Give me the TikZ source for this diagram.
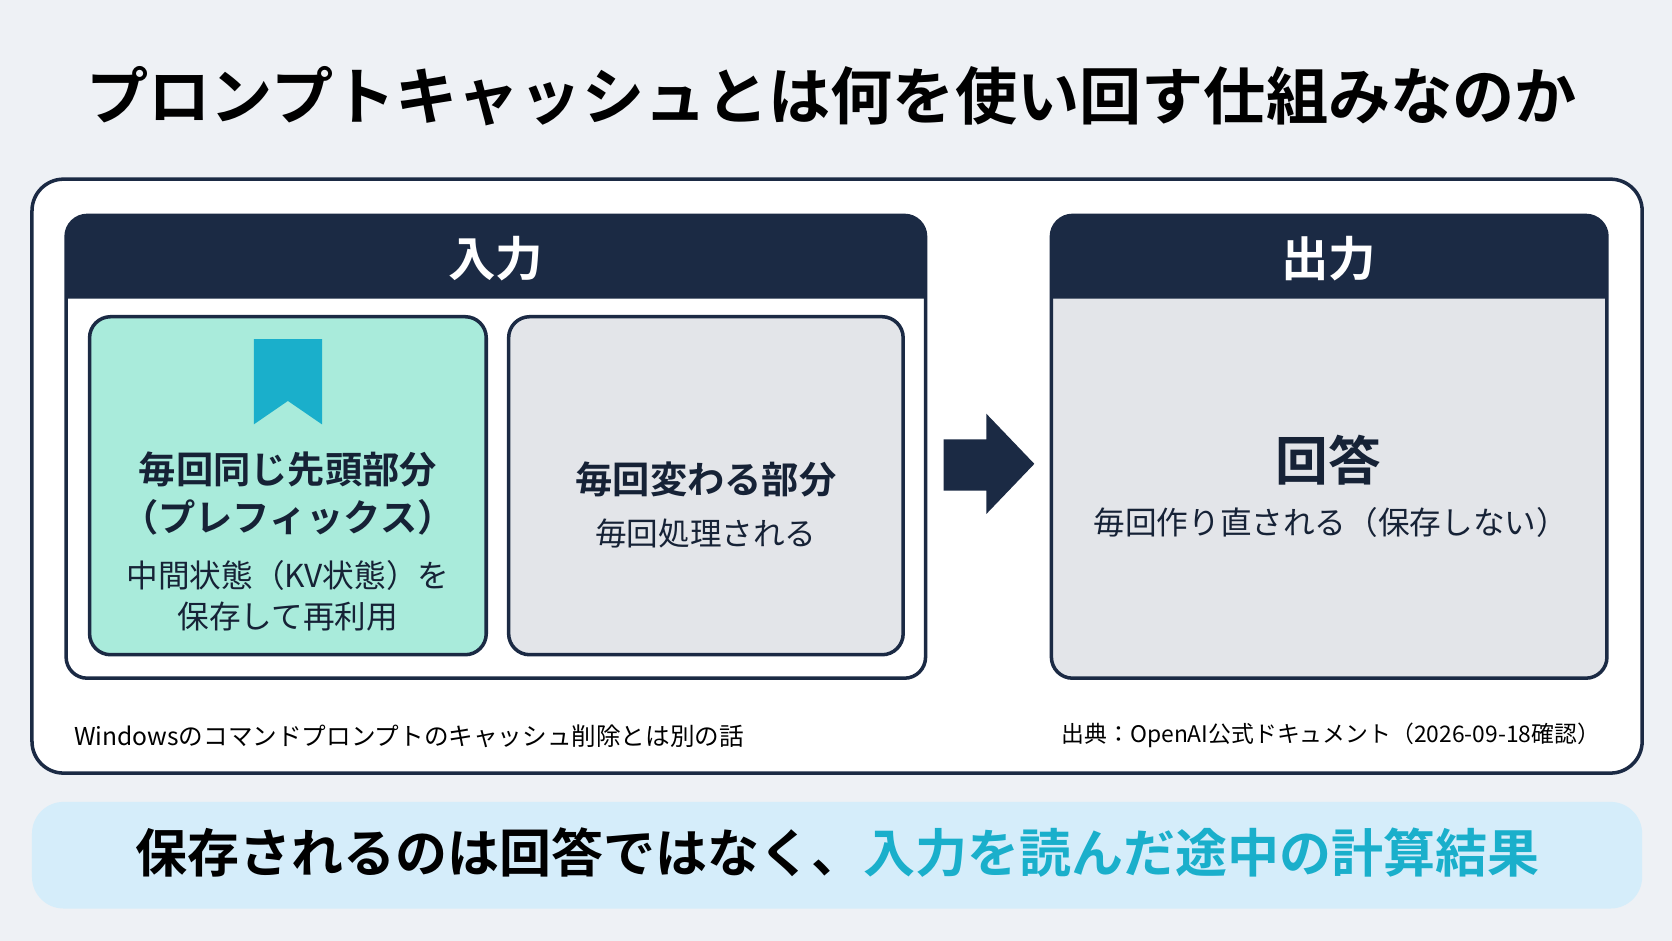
\documentclass[tikz,border=0pt]{standalone}
\usepackage{fontspec}
\setmainfont{Noto Sans CJK JP}
\newfontfamily\jpbold{Noto Sans CJK JP Bold}
\definecolor{navy}{HTML}{1B2A44}
\definecolor{bgcol}{HTML}{EEF1F5}
\definecolor{mint}{HTML}{A9EBDB}
\definecolor{panelgray}{HTML}{E3E5E9}
\definecolor{teal}{HTML}{1AAFCB}
\definecolor{banner}{HTML}{D5EDFA}
\tikzset{
  box/.style={draw=navy, line width=1pt, rounded corners=6pt},
  headtxt/.style={text=white, font=\jpbold\fontsize{13.5}{15}\selectfont},
  bold/.style={font=\jpbold\fontsize{10.6}{13}\selectfont, text=navy!80!black},
  plain/.style={font=\fontsize{9}{11}\selectfont, text=navy!80!black},
  note/.style={font=\fontsize{7}{9}\selectfont, text=black}
}
\begin{document}
\begin{tikzpicture}[x=0.010663cm, y=-0.010663cm]
\useasboundingbox[fill=bgcol] (0,0) rectangle (1568,882);
% title
\node[font=\jpbold\fontsize{17.7}{20}\selectfont, text=black] (title) at (780,90) {プロンプトキャッシュとは何を使い回す仕組みなのか};
% outer frame
\draw[box, fill=white, rounded corners=9pt] (30,168) rectangle (1540,725);
% input panel
\draw[box, fill=white] (62,202) rectangle (868,636);
\fill[navy] (62,280) [rounded corners=6pt] -- (62,202) -- (868,202) [sharp corners] -- (868,280) -- cycle;
\node[headtxt] (inhead) at (465,243) {入力};
\draw[box, fill=mint] (84,297) rectangle (456,614);
\fill[teal] (238,318) -- (302,318) -- (302,398) -- (270,376) -- (238,398) -- cycle;
\node[bold] (pre1) at (270,440) {毎回同じ先頭部分};
\node[bold] (pre2) at (270,485) {（プレフィックス）};
\node[plain] (pre3) at (270,540) {中間状態（KV状態）を};
\node[plain] (pre4) at (270,578) {保存して再利用};
\draw[box, fill=panelgray] (477,297) rectangle (847,614);
\node[bold] (var1) at (662,450) {毎回変わる部分};
\node[plain] (var2) at (662,500) {毎回処理される};
% arrow
\fill[navy] (885,412) -- (925,412) -- (925,388) -- (970,435) -- (925,482) -- (925,460) -- (885,460) -- cycle;
% output panel
\draw[box, fill=panelgray] (986,202) rectangle (1507,636);
\fill[navy] (986,280) [rounded corners=6pt] -- (986,202) -- (1507,202) [sharp corners] -- (1507,280) -- cycle;
\node[headtxt] (outhead) at (1246,243) {出力};
\node[bold, font=\jpbold\fontsize{15}{17}\selectfont] (ans1) at (1246,432) {回答};
\node[plain] (ans2) at (1248,490) {毎回作り直される（保存しない）};
% notes
\node[note, anchor=west] (noteL) at (58,690) {Windowsのコマンドプロンプトのキャッシュ削除とは別の話};
\node[note, font=\fontsize{6.5}{8}\selectfont, anchor=east] (noteR) at (1512,690) {出典：OpenAI公式ドキュメント（2026-09-18確認）};
% banner
\fill[banner, rounded corners=9pt] (30,752) rectangle (1540,852);
\node[font=\jpbold\fontsize{14.8}{17}\selectfont] (summary) at (785,800) {保存されるのは回答ではなく、\textcolor{teal}{入力を読んだ途中の計算結果}};
\end{tikzpicture}
\end{document}
